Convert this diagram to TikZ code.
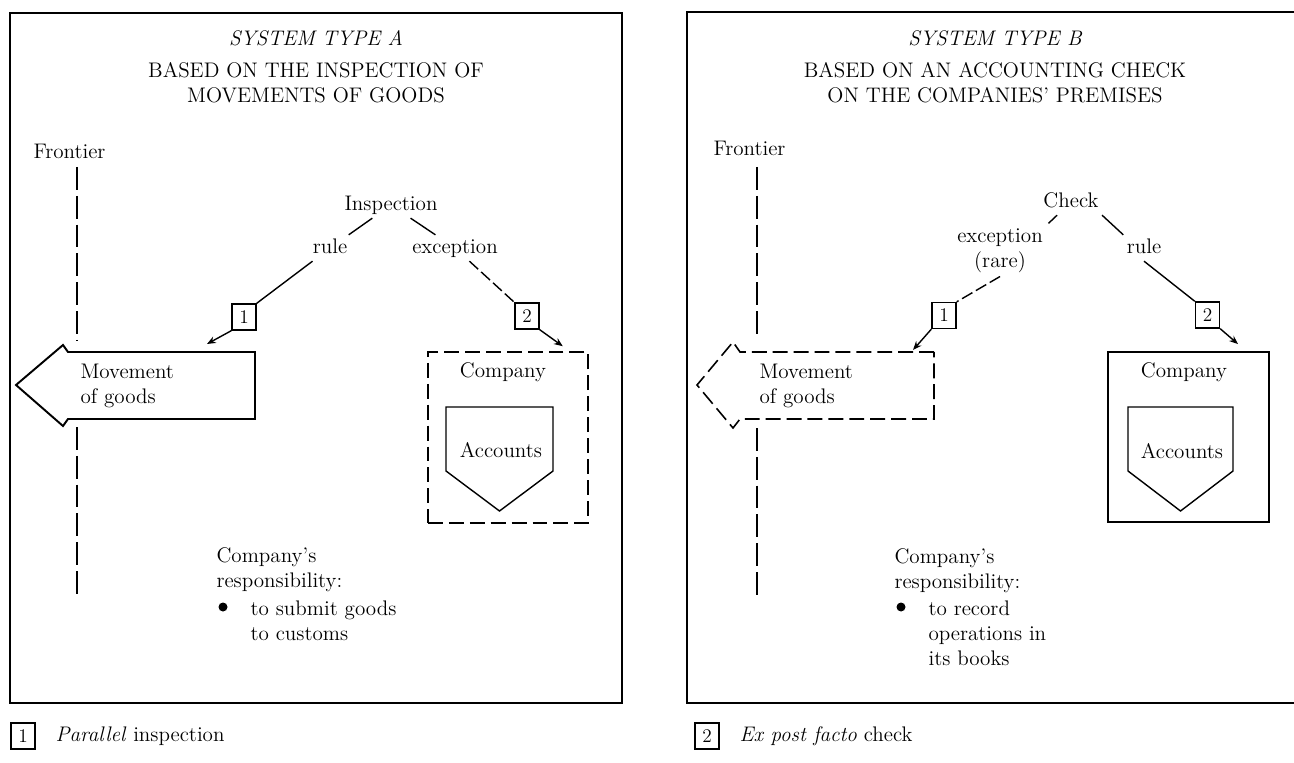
\documentclass[tikz,border=0pt]{standalone}
\usetikzlibrary{arrows.meta,positioning}
\begin{document}
\begin{tikzpicture}[x=0.02cm,y=-0.02cm]
   \tikzstyle{lbl}=[inner sep=0pt,outer sep=2pt,font=\fontsize{12}{14.2}\selectfont,text height=8.5pt,text depth=2.5pt]
   \tikzstyle{blk}=[inner sep=0pt,outer sep=2pt,font=\fontsize{12}{14.2}\selectfont,align=left]
   \tikzstyle{ttl}=[inner sep=0pt,font=\fontsize{12}{14.2}\selectfont,align=center]
   \tikzstyle{num}=[draw,line width=0.8pt,inner sep=0pt,minimum width=0.48cm,minimum height=0.52cm,font=\fontsize{11}{12}\selectfont]
   \tikzstyle{ln}=[line width=0.8pt]
   \tikzstyle{dsh}=[line width=0.8pt,dash pattern=on 6.8pt off 2.3pt]
   \tikzstyle{ar}=[line width=0.8pt,-{Stealth[length=5pt,width=4pt]}]
   \tikzstyle{frame}=[line width=1.1pt]
   \tikzstyle{front}=[line width=1pt,dash pattern=on 13pt off 3.4pt]
   \tikzstyle{boxd}=[line width=0.9pt,dash pattern=on 8.5pt off 3.4pt]
   \tikzstyle{bul}=[circle,fill,inner sep=0pt,minimum size=0.18cm]

   \useasboundingbox (0,0) rectangle (1294,763);
   \fill[white] (0,0) rectangle (1294,763);
   \clip (0,0) rectangle (1294,763);

   % system type A
   \draw[frame] (10,13) rectangle (622,703);
   \node (ttlA) [ttl] at (316,38) {\itshape SYSTEM TYPE A};
   \node (subA) [ttl] at (316,82.5) {BASED ON THE INSPECTION OF\\MOVEMENTS OF GOODS};
   \node (frA) [lbl] at (69.5,153) {Frontier};
   \draw[front] (77,167) -- (77,341);
   \draw[front] (77,427) -- (77,594);
   \node (insA) [lbl] at (391,205) {Inspection};
   \node (ruleA) [lbl] at (330,248) {rule};
   \node (excA) [lbl] at (455,248) {exception};
   \node (nA1) [num] at (244,317) {1};
   \node (nA2) [num] at (527,316) {2};
   \draw[ln] (insA) -- (ruleA);
   \draw[ln] (insA) -- (excA);
   \draw[ln] (ruleA) -- (nA1.north east);
   \draw[dsh] (excA) -- (nA2.north west);
   \draw[frame] (255,352) -- (68,352) -- (63,345) -- (16,385) -- (63,426) -- (68,419) -- (255,419) -- cycle;
   \node (moveA) [blk,anchor=west] at (77,386) {Movement\\of goods};
   \coordinate (mvA) at (207,344);
   \draw[ar] (nA1.south west) -- (mvA);
   \node (compA) [boxd,draw,minimum width=3.2cm,minimum height=3.42cm] at (508,437.5) {};
   \node (cnA) [lbl] at (503,372) {Company};
   \draw[ln] (446,407) -- (553,407) -- (553,471) -- (499.5,511) -- (446,471) -- cycle;
   \node (accA) [lbl] at (501,452) {Accounts};
   \draw[ar] (nA2.south east) -- ([shift={(-26,-5)}]compA.north east);
   \node (respA) [blk,anchor=west] at (213,570) {Company's\\responsibility:};
   \node (bA) [bul] at (223,607) {};
   \node (dutyA) [blk,anchor=west] at (247,621) {to submit goods\\to customs};

   % system type B
   \draw[frame] (687,12) rectangle (1300,703);
   \node (ttlB) [ttl] at (995,38) {\itshape SYSTEM TYPE B};
   \node (subB) [ttl] at (995,82.5) {BASED ON AN ACCOUNTING CHECK\\ON THE COMPANIES' PREMISES};
   \node (frB) [lbl] at (749.5,150) {Frontier};
   \draw[front] (757,167) -- (757,338);
   \draw[front] (757,428) -- (757,595);
   \node (chkB) [lbl] at (1071,202) {Check};
   \node (excB) [blk,align=center] at (1000,251) {exception\\(rare)};
   \node (ruleB) [lbl] at (1144,248) {rule};
   \node (nB1) [num] at (944,315.5) {1};
   \node (nB2) [num] at (1207.5,315) {2};
   \draw[dsh] (chkB) -- (excB.north east);
   \draw[dsh] (excB.south) -- (nB1.north east);
   \draw[ln] (chkB.south east) -- (ruleB.north west);
   \draw[ln] (ruleB.south) -- (nB2.north west);
   \draw[boxd] (934,352) -- (740,352) -- (733,342) -- (697,385) -- (733,428) -- (740,419) -- (934,419) -- cycle;
   \node (moveB) [blk,anchor=west] at (756,386) {Movement\\of goods};
   \coordinate (mvB) at (913,350);
   \draw[ar] (nB1.south west) -- (mvB);
   \node (compB) [frame,draw,minimum width=3.22cm,minimum height=3.4cm] at (1188.5,437) {};
   \node (cnB) [lbl] at (1184,372) {Company};
   \draw[ln] (1128,407) -- (1233,407) -- (1233,471) -- (1180.5,511) -- (1128,471) -- cycle;
   \node (accB) [lbl] at (1182,453) {Accounts};
   \draw[ar] (nB2.south east) -- ([shift={(-32,-7)}]compB.north east);
   \node (respB) [blk,anchor=west] at (891,571) {Company's\\responsibility:};
   \node (bB) [bul] at (901,607) {};
   \node (dutyB) [blk,anchor=west] at (925,633) {to record\\operations in\\its books};

   % key
   \node (keyA) [num] at (23,736) {1};
   \node (legA) [lbl,right=0.33cm of keyA] {\textit{Parallel} inspection};
   \node (keyB) [num] at (707,736) {2};
   \node (legB) [lbl,right=0.33cm of keyB] {\textit{Ex post facto} check};
\end{tikzpicture}
\end{document}
